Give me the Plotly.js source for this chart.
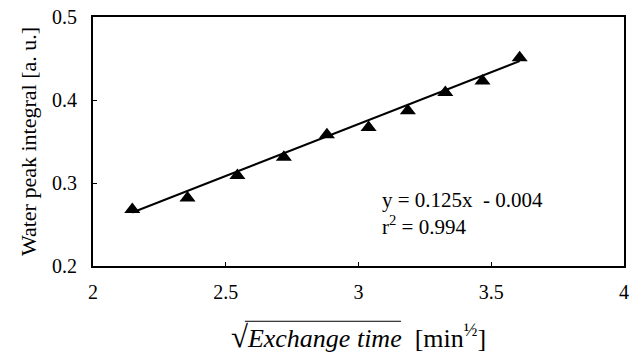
<!DOCTYPE html>
<html>
<head>
<meta charset="utf-8">
<script src="https://cdn.plot.ly/plotly-3.0.1.min.js"></script>
<style>html,body{margin:0;padding:0;background:#fff;}#chart{width:633px;height:364px;}</style>
</head>
<body>
<div id="chart"></div>
<script>
// Data
var sqrtTime = [2.148, 2.356, 2.544, 2.719, 2.881, 3.038, 3.186, 3.327, 3.467, 3.607];
var peakIntegral = [0.268, 0.282, 0.309, 0.331, 0.358, 0.367, 0.387, 0.409, 0.423, 0.451];
var fitSlope = 0.125;
var fitIntercept = -0.004;
var fitRange = [2.148, 3.607];
var xTicks = [2, 2.5, 3, 3.5, 4];
var xTickLabels = ['2', '2.5', '3', '3.5', '4'];
var yTicks = [0.2, 0.3, 0.4, 0.5];
var yTickLabels = ['0.2', '0.3', '0.4', '0.5'];

var fitY = fitRange.map(function (x) { return fitSlope * x + fitIntercept; });

var font = '"Liberation Serif"';

var traces = [
  {
    x: fitRange, y: fitY, mode: 'lines', type: 'scatter',
    line: {color: '#000', width: 2}, hoverinfo: 'skip', showlegend: false
  },
  {
    x: sqrtTime, y: peakIntegral, mode: 'markers', type: 'scatter',
    marker: {symbol: 'triangle-up', size: 14, color: '#000'}, showlegend: false
  }
];

var layout = {
  width: 633, height: 364,
  margin: {l: 93, r: 9, t: 17, b: 98},
  paper_bgcolor: '#fff', plot_bgcolor: '#fff',
  font: {family: font, color: '#000', size: 20},
  showlegend: false,
  xaxis: {
    range: [2, 4], tickvals: xTicks, ticktext: xTickLabels,
    showgrid: false, zeroline: false,
    showline: true, linecolor: '#000', linewidth: 2, mirror: true,
    ticks: 'inside', ticklen: 4, tickcolor: '#000', tickwidth: 1,
    tickfont: {family: font, size: 20, color: '#000'},
    ticklabelstandoff: 7,
    title: {
      text: '<span style="font-size:31px">√</span><i>Exchange time</i>  [min<sup>½</sup>]',
      font: {family: font, size: 26, color: '#000'},
      standoff: 27
    }
  },
  yaxis: {
    range: [0.2, 0.5], tickvals: yTicks, ticktext: yTickLabels,
    showgrid: false, zeroline: false,
    showline: true, linecolor: '#000', linewidth: 2, mirror: true,
    ticks: 'inside', ticklen: 4, tickcolor: '#000', tickwidth: 1,
    tickfont: {family: font, size: 20, color: '#000'},
    ticklabelstandoff: 10,
    title: {
      text: 'Water peak integral [a. u.]',
      font: {family: font, size: 22, color: '#000'},
      standoff: 9
    }
  },
  annotations: [
    {
      xref: 'paper', yref: 'paper', x: 0.54, y: 0.209, xanchor: 'left', yanchor: 'middle',
      text: 'y = 0.125x  - 0.004<br>r<sup>2</sup> = 0.994', align: 'left', showarrow: false,
      font: {family: font, size: 21, color: '#000'}
    }
  ],
  shapes: [
    {type: 'line', xref: 'paper', yref: 'paper', x0: 0.286, x1: 0.58, y0: -0.222, y1: -0.222,
     line: {color: '#000', width: 1}}
  ]
};

Plotly.newPlot('chart', traces, layout, {displayModeBar: false, staticPlot: true});
</script>
</body>
</html>
